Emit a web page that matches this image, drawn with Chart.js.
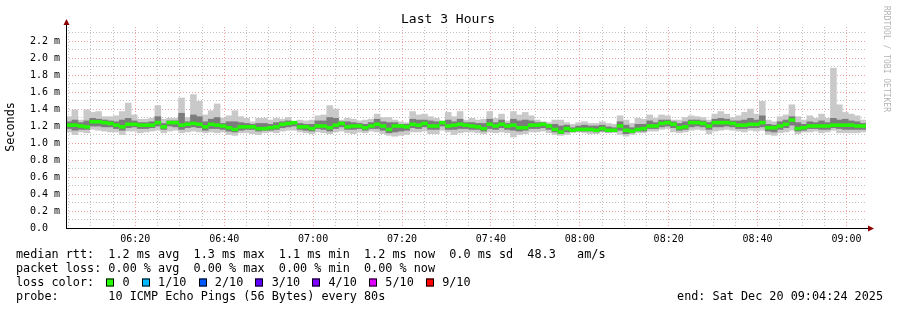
<!DOCTYPE html>
<html>
<head>
<meta charset="utf-8">
<script src="https://cdn.jsdelivr.net/npm/chart.js@4/dist/chart.umd.min.js"></script>
<style>
  html, body { margin: 0; padding: 0; background: #fff; }
  canvas { display: block; }
</style>
</head>
<body>
<canvas id="c" width="897" height="310"></canvas>
<script>
// median rtt per 80s step (ms), 06:04:24 .. 09:04:24
const median = [
  1.21, 1.21, 1.20, 1.19, 1.25, 1.25, 1.24, 1.23, 1.21, 1.19, 1.22, 1.22, 1.21, 1.21, 1.21, 1.24, 1.19, 1.24, 1.24, 1.21, 1.22, 1.23, 1.22,
  1.19, 1.22, 1.21, 1.20, 1.18, 1.16, 1.19, 1.19, 1.19, 1.17, 1.17, 1.18, 1.19, 1.22, 1.23, 1.24, 1.19, 1.19, 1.17, 1.20, 1.20, 1.18,
  1.21, 1.23, 1.19, 1.20, 1.20, 1.18, 1.20, 1.22, 1.20, 1.16, 1.20, 1.20, 1.19, 1.22, 1.21, 1.23, 1.20, 1.20, 1.24, 1.20, 1.21, 1.22, 1.21,
  1.20, 1.19, 1.17, 1.22, 1.20, 1.22, 1.20, 1.21, 1.18, 1.18, 1.21, 1.21, 1.22, 1.20, 1.16, 1.13, 1.17, 1.15, 1.16, 1.16, 1.16, 1.15, 1.17,
  1.15, 1.15, 1.20, 1.15, 1.14, 1.16, 1.17, 1.20, 1.20, 1.23, 1.24, 1.22, 1.18, 1.19, 1.24, 1.24, 1.23, 1.20, 1.24, 1.24, 1.24, 1.23,
  1.21, 1.21, 1.22, 1.22, 1.24, 1.18, 1.18, 1.20, 1.22, 1.27, 1.17, 1.18, 1.20, 1.20, 1.20, 1.20, 1.21, 1.21, 1.21, 1.21, 1.20, 1.20
];
// smoke: fastest / inner low / inner high / slowest ping (ms)
const pingMin = [
  1.13, 1.10, 1.13, 1.12, 1.16, 1.15, 1.14, 1.13, 1.13, 1.10, 1.14, 1.14, 1.12, 1.13, 1.14, 1.15, 1.12, 1.14, 1.15, 1.12, 1.13, 1.14, 1.13,
  1.12, 1.13, 1.12, 1.13, 1.10, 1.09, 1.12, 1.12, 1.11, 1.10, 1.12, 1.13, 1.12, 1.14, 1.15, 1.15, 1.13, 1.12, 1.11, 1.13, 1.12, 1.11,
  1.13, 1.14, 1.12, 1.11, 1.13, 1.12, 1.14, 1.13, 1.11, 1.09, 1.08, 1.09, 1.10, 1.13, 1.13, 1.14, 1.11, 1.11, 1.15, 1.13, 1.10, 1.12, 1.13,
  1.13, 1.12, 1.11, 1.13, 1.12, 1.13, 1.12, 1.07, 1.10, 1.11, 1.13, 1.13, 1.14, 1.12, 1.10, 1.09, 1.10, 1.13, 1.13, 1.12, 1.11, 1.11, 1.13,
  1.12, 1.13, 1.10, 1.08, 1.10, 1.12, 1.12, 1.14, 1.14, 1.16, 1.17, 1.13, 1.12, 1.13, 1.15, 1.16, 1.15, 1.11, 1.14, 1.15, 1.16, 1.15,
  1.14, 1.13, 1.15, 1.14, 1.15, 1.10, 1.09, 1.12, 1.13, 1.15, 1.11, 1.13, 1.13, 1.14, 1.12, 1.13, 1.15, 1.12, 1.12, 1.12, 1.12, 1.13
];
const pingLo = [
  1.17, 1.15, 1.16, 1.16, 1.20, 1.20, 1.19, 1.19, 1.17, 1.15, 1.18, 1.19, 1.17, 1.17, 1.18, 1.20, 1.16, 1.20, 1.19, 1.16, 1.18, 1.19, 1.18,
  1.15, 1.17, 1.17, 1.16, 1.14, 1.13, 1.15, 1.16, 1.16, 1.14, 1.15, 1.15, 1.16, 1.18, 1.19, 1.20, 1.16, 1.15, 1.14, 1.17, 1.16, 1.14,
  1.17, 1.19, 1.16, 1.16, 1.17, 1.15, 1.17, 1.17, 1.15, 1.12, 1.13, 1.14, 1.15, 1.18, 1.17, 1.19, 1.16, 1.16, 1.20, 1.16, 1.16, 1.17, 1.17,
  1.16, 1.16, 1.14, 1.17, 1.16, 1.18, 1.16, 1.15, 1.14, 1.15, 1.17, 1.17, 1.18, 1.16, 1.13, 1.11, 1.13, 1.13, 1.14, 1.14, 1.14, 1.13, 1.14,
  1.13, 1.13, 1.15, 1.11, 1.12, 1.14, 1.14, 1.17, 1.17, 1.19, 1.20, 1.18, 1.15, 1.16, 1.19, 1.20, 1.19, 1.16, 1.19, 1.19, 1.20, 1.19,
  1.17, 1.17, 1.18, 1.18, 1.19, 1.14, 1.13, 1.16, 1.18, 1.21, 1.14, 1.15, 1.17, 1.17, 1.16, 1.16, 1.18, 1.17, 1.16, 1.16, 1.16, 1.16
];
const pingHi = [
  1.25, 1.27, 1.24, 1.26, 1.29, 1.28, 1.27, 1.26, 1.25, 1.27, 1.29, 1.26, 1.24, 1.24, 1.25, 1.31, 1.23, 1.26, 1.26, 1.35, 1.25, 1.33, 1.31,
  1.25, 1.28, 1.30, 1.23, 1.25, 1.25, 1.24, 1.23, 1.22, 1.23, 1.23, 1.22, 1.24, 1.25, 1.26, 1.22, 1.23, 1.22, 1.22, 1.26, 1.26, 1.30,
  1.29, 1.25, 1.25, 1.24, 1.23, 1.22, 1.24, 1.28, 1.25, 1.24, 1.24, 1.22, 1.22, 1.28, 1.27, 1.27, 1.26, 1.25, 1.25, 1.27, 1.25, 1.28, 1.24,
  1.24, 1.23, 1.23, 1.28, 1.24, 1.27, 1.23, 1.28, 1.26, 1.27, 1.26, 1.24, 1.24, 1.22, 1.22, 1.20, 1.21, 1.18, 1.20, 1.21, 1.20, 1.20, 1.21,
  1.19, 1.18, 1.25, 1.21, 1.18, 1.22, 1.22, 1.26, 1.24, 1.27, 1.27, 1.25, 1.23, 1.25, 1.27, 1.27, 1.26, 1.24, 1.28, 1.29, 1.28, 1.26,
  1.26, 1.27, 1.29, 1.27, 1.32, 1.22, 1.21, 1.25, 1.27, 1.31, 1.24, 1.22, 1.25, 1.24, 1.26, 1.24, 1.29, 1.27, 1.28, 1.26, 1.25, 1.23
];
const pingMax = [
  1.31, 1.39, 1.27, 1.39, 1.36, 1.37, 1.31, 1.31, 1.32, 1.37, 1.47, 1.33, 1.28, 1.28, 1.29, 1.44, 1.28, 1.29, 1.29, 1.53, 1.30, 1.57, 1.49,
  1.33, 1.38, 1.46, 1.29, 1.32, 1.38, 1.31, 1.29, 1.25, 1.29, 1.29, 1.27, 1.29, 1.28, 1.30, 1.25, 1.27, 1.26, 1.27, 1.32, 1.33, 1.44,
  1.40, 1.27, 1.29, 1.28, 1.26, 1.27, 1.28, 1.34, 1.30, 1.30, 1.27, 1.25, 1.24, 1.37, 1.33, 1.34, 1.31, 1.29, 1.26, 1.36, 1.31, 1.37, 1.27,
  1.29, 1.27, 1.28, 1.37, 1.29, 1.34, 1.26, 1.37, 1.33, 1.36, 1.32, 1.27, 1.25, 1.24, 1.27, 1.27, 1.24, 1.22, 1.24, 1.25, 1.23, 1.23, 1.25,
  1.23, 1.22, 1.32, 1.27, 1.23, 1.29, 1.28, 1.33, 1.29, 1.33, 1.32, 1.27, 1.27, 1.30, 1.32, 1.31, 1.30, 1.27, 1.34, 1.37, 1.34, 1.30,
  1.32, 1.36, 1.40, 1.34, 1.49, 1.27, 1.25, 1.31, 1.33, 1.45, 1.31, 1.27, 1.32, 1.29, 1.34, 1.29, 1.88, 1.45, 1.36, 1.34, 1.32, 1.27
];

// x axis (minutes after midnight) and labels
const timeStart = 6 * 60 + 4.4;   // 06:04:24
const timeEnd = 9 * 60 + 4.4;     // 09:04:24
const timeLabels = ['06:20', '06:40', '07:00', '07:20', '07:40', '08:00', '08:20', '08:40', '09:00'];
const yMax = 2.365;

const lossLabels = ['0', '1/10', '2/10', '3/10', '4/10', '5/10', '9/10'];
const lossColors = ['#26ff00', '#00b8ff', '#0059ff', '#5e00ff', '#7e00ff', '#dd00ff', '#ff0000'];

const legendLines = [
  'median rtt:  1.2 ms avg  1.3 ms max  1.1 ms min  1.2 ms now  0.0 ms sd  48.3   am/s',
  'packet loss: 0.00 % avg  0.00 % max  0.00 % min  0.00 % now',
  'loss color:',
  'probe:       10 ICMP Echo Pings (56 Bytes) every 80s'
];
const endText = 'end: Sat Dec 20 09:04:24 2025';

const MONO = '"DejaVu Sans Mono", monospace';
const C = {
  smokeOuter: '#c9c9c9',
  smokeInner: '#7c7c7c',
  green:      '#22f800',
  gridMajor:  'rgba(232,110,110,0.65)',
  gridMinor:  'rgba(150,150,150,0.6)',
  arrow:      '#8b0000',
};

const toMin = s => +s.slice(0, 2) * 60 + +s.slice(3);
const majorMin = timeLabels.map(toMin);
const isTenth = v => Math.abs(v * 10 - Math.round(v * 10)) < 1e-6;
const isMajorY = v => Math.round(v * 10) % 2 === 0;

// 텍스트, 축, 화살표
const decor = {
  id: 'decor',
  afterDraw(chart) {
    const ctx = chart.ctx;
    const a = chart.chartArea;
    ctx.save();

    // axes
    ctx.strokeStyle = '#000';
    ctx.lineWidth = 1;
    ctx.beginPath();
    ctx.moveTo(a.left + 0.5, a.bottom);
    ctx.lineTo(a.left + 0.5, a.top - 4);
    ctx.moveTo(a.left, a.bottom + 0.5);
    ctx.lineTo(a.right + 4, a.bottom + 0.5);
    ctx.stroke();
    ctx.fillStyle = C.arrow;
    ctx.beginPath();
    ctx.moveTo(a.left + 0.5, a.top - 8);
    ctx.lineTo(a.left - 2.5, a.top - 2);
    ctx.lineTo(a.left + 3.5, a.top - 2);
    ctx.fill();
    ctx.beginPath();
    ctx.moveTo(a.right + 8, a.bottom + 0.5);
    ctx.lineTo(a.right + 2, a.bottom - 2.5);
    ctx.lineTo(a.right + 2, a.bottom + 3.5);
    ctx.fill();

    // title
    ctx.fillStyle = '#000';
    ctx.font = '13px ' + MONO;
    ctx.textAlign = 'center';
    ctx.textBaseline = 'middle';
    ctx.fillText('Last 3 Hours', 448, 19.5);

    // y title
    ctx.font = '11.8px ' + MONO;
    ctx.save();
    ctx.translate(11, 127);
    ctx.rotate(-Math.PI / 2);
    ctx.fillText('Seconds', 0, 0);
    ctx.restore();

    // watermark
    ctx.save();
    ctx.fillStyle = '#b4b4b4';
    ctx.font = '8px ' + MONO;
    ctx.translate(886, 59);
    ctx.rotate(Math.PI / 2);
    ctx.fillText('RRDTOOL / TOBI OETIKER', 0, 0);
    ctx.restore();

    // legend
    ctx.font = '11.8px ' + MONO;
    ctx.textAlign = 'left';
    const cw = ctx.measureText('0').width;
    const x0 = 16;
    const ys = [254.5, 268.5, 282.5, 296.5];
    legendLines.forEach((t, i) => ctx.fillText(t, x0, ys[i]));

    let idx = 13;
    lossLabels.forEach((lab, i) => {
      const bx = Math.round(x0 + idx * cw) - 2;
      ctx.fillStyle = lossColors[i];
      ctx.fillRect(bx, ys[2] - 4, 8, 8);
      ctx.strokeStyle = '#000';
      ctx.strokeRect(bx + 0.5, ys[2] - 3.5, 7, 7);
      ctx.fillStyle = '#000';
      ctx.fillText(lab, x0 + (idx + 2) * cw, ys[2]);
      idx += 2 + lab.length + 2;
    });

    ctx.textAlign = 'right';
    ctx.fillText(endText, 883, ys[3]);
    ctx.restore();
  }
};

const barBase = {
  type: 'bar',
  grouped: false,
  barPercentage: 1,
  categoryPercentage: 1,
  borderWidth: 0,
  xAxisID: 'x',
  yAxisID: 'y',
};

new Chart(document.getElementById('c'), {
  data: {
    labels: median.map((_, i) => i),
    datasets: [
      { ...barBase, order: 0, backgroundColor: C.green,
        data: median.map(m => [m - 0.017, m + 0.017]) },
      { ...barBase, order: 1, backgroundColor: C.smokeInner,
        data: pingLo.map((v, i) => [v, pingHi[i]]) },
      { ...barBase, order: 2, backgroundColor: C.smokeOuter,
        data: pingMin.map((v, i) => [v, pingMax[i]]) },
    ]
  },
  options: {
    responsive: false,
    animation: false,
    layout: { padding: { top: 27, right: 31, left: 0, bottom: 0 } },
    plugins: { legend: { display: false }, tooltip: { enabled: false }, title: { display: false } },
    scales: {
      x: { type: 'category', display: false, offset: true },
      xt: {
        type: 'linear', position: 'bottom', min: timeStart, max: timeEnd,
        afterBuildTicks: s => {
          const t = [];
          for (let m = 365; m <= 540; m += 5) t.push({ value: m });
          s.ticks = t;
        },
        afterFit: s => { s.height = 82; },
        border: { display: false, dash: [1, 2] },
        grid: {
          drawTicks: false,
          color: c => (c.tick && majorMin.includes(c.tick.value)) ? C.gridMajor : C.gridMinor,
        },
        ticks: {
          autoSkip: false, maxRotation: 0, padding: 5, color: '#000',
          font: { family: MONO, size: 10 },
          callback: v => {
            const k = majorMin.indexOf(v);
            return k >= 0 ? timeLabels[k] : '';
          }
        }
      },
      y: {
        min: 0, max: yMax,
        afterBuildTicks: s => {
          const t = [];
          for (let k = 0; k <= 23; k++) t.push({ value: k / 10 });
          s.ticks = t;
        },
        afterFit: s => { s.width = 66; },
        border: { display: false, dash: [1, 2] },
        grid: {
          drawTicks: false,
          color: c => (c.tick && isMajorY(c.tick.value)) ? C.gridMajor : C.gridMinor,
        },
        ticks: {
          autoSkip: false, padding: 6, color: '#000',
          font: { family: MONO, size: 10 },
          callback: v => {
            if (!isTenth(v) || !isMajorY(v)) return '';
            return v === 0 ? '0.0  ' : v.toFixed(1) + ' m';
          }
        }
      }
    }
  },
  plugins: [decor]
});
</script>
</body>
</html>
